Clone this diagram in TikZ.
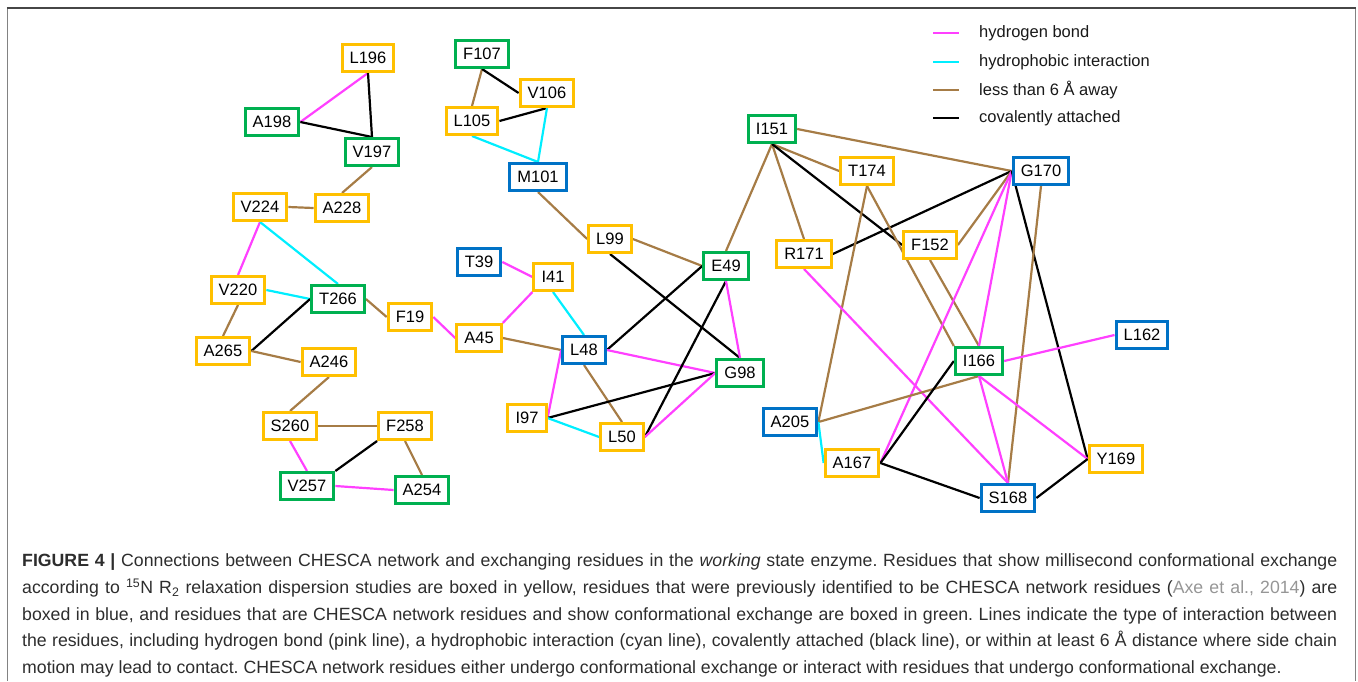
\documentclass[tikz,border=0pt]{standalone}
\usepackage{fontspec}
\setmainfont{Liberation Sans}
\usetikzlibrary{backgrounds}
\definecolor{cyel}{RGB}{255,192,0}
\definecolor{cgrn}{RGB}{0,176,80}
\definecolor{cblu}{RGB}{0,114,198}
\definecolor{cpink}{RGB}{255,64,255}
\definecolor{ccyan}{RGB}{0,238,255}
\definecolor{cbrown}{RGB}{166,124,70}
\definecolor{captxt}{RGB}{45,45,45}
\definecolor{capgray}{RGB}{150,150,150}
\definecolor{framedark}{RGB}{70,70,70}
\definecolor{framegray}{RGB}{130,130,130}
\tikzset{
  res/.style={draw, fill=white, line width=3pt, text=black,
    font=\fontsize{16.5}{18}\selectfont, inner xsep=7.6pt, inner ysep=0pt,
    minimum height=27pt},
  yb/.style={res, draw=cyel},
  gb/.style={res, draw=cgrn},
  bb/.style={res, draw=cblu},
  conn/.style={line width=2.2pt},
  hb/.style={conn, draw=cpink},
  hp/.style={conn, draw=ccyan},
  nb/.style={conn, draw=cbrown},
  cv/.style={conn, draw=black},
  legtext/.style={anchor=west, inner sep=0pt, text=black!90, font=\fontsize{16.5}{18}\selectfont},
}
\begin{document}
\begin{tikzpicture}[x=1pt,y=-1pt]
\useasboundingbox (0,0) rectangle (1358,681);
% frame
\draw[framegray, line width=1.5pt] (7.5,8) -- (7.5,681);
\draw[framegray, line width=1.5pt] (1355.5,8) -- (1355.5,681);
\draw[framedark, line width=2pt] (6.75,8) -- (1356.25,8);

% nodes
\node[yb] (L196) at (368,58) {L196};
\node[gb] (A198) at (272,122) {A198};
\node[gb] (V197) at (372,152) {V197};
\node[gb] (F107) at (482,54) {F107};
\node[yb] (V106) at (547,93) {V106};
\node[yb] (L105) at (472,121) {L105};
\node[bb] (M101) at (538,177) {M101};
\node[yb] (V224) at (260,207) {V224};
\node[yb] (A228) at (342,208) {A228};
\node[yb] (V220) at (238,290) {V220};
\node[gb] (T266) at (338,299) {T266};
\node[yb] (F19) at (410,317) {F19};
\node[yb] (A265) at (223,351) {A265};
\node[yb] (A246) at (329,362) {A246};
\node[yb] (S260) at (290,426) {S260};
\node[yb] (F258) at (405,426) {F258};
\node[gb] (V257) at (307,486) {V257};
\node[gb] (A254) at (422,490) {A254};
\node[bb] (T39) at (479,262) {T39};
\node[yb] (I41) at (553,277) {I41};
\node[yb] (A45) at (479,338) {A45};
\node[bb] (L48) at (584,350) {L48};
\node[yb] (I97) at (527,418) {I97};
\node[yb] (L50) at (622,437) {L50};
\node[yb] (L99) at (610,239) {L99};
\node[gb] (E49) at (726,266) {E49};
\node[gb] (G98) at (740,373) {G98};
\node[gb] (I151) at (772,129) {I151};
\node[yb] (T174) at (867,171) {T174};
\node[bb] (G170) at (1041,171) {G170};
\node[yb] (R171) at (804,254) {R171};
\node[yb] (F152) at (930,245) {F152};
\node[bb] (L162) at (1142,335) {L162};
\node[gb] (I166) at (979,361) {I166};
\node[bb] (A205) at (790,422) {A205};
\node[yb] (A167) at (852,463) {A167};
\node[yb] (Y169) at (1116,459) {Y169};
\node[bb] (S168) at (1008,498) {S168};

\begin{scope}[on background layer]
% left cluster
\draw[hb] (L196.south) -- (A198.east);
\draw[cv] (L196.south) -- (V197.north);
\draw[cv] (A198.east) -- (V197.north);
\draw[nb] (V197.south) -- (A228.north);
\draw[nb] (V224.east) -- (A228.west);
\draw[hb] (V224.south) -- (V220.north);
\draw[hp] (V224.south) -- (T266.north);
\draw[hp] (V220.east) -- (T266.west);
\draw[nb] (V220.south) -- (A265.north);
\draw[cv] (A265.east) -- (T266.west);
\draw[nb] (T266.east) -- (F19.west);
\draw[nb] (A265.east) -- (A246.west);
\draw[nb] (A246.south) -- (S260.north);
\draw[nb] (S260.east) -- (F258.west);
\draw[hb] (S260.south) -- (V257.north);
\draw[cv] (F258.south west) -- (V257.north east);
\draw[nb] (F258.south) -- (A254.north);
\draw[hb] (V257.east) -- (A254.west);
\draw[hb] (F19.east) -- (A45.west);
% middle cluster
\draw[nb] (F107.south) -- (L105.north);
\draw[cv] (F107.south) -- (V106.west);
\draw[cv] (L105.east) -- (V106.south);
\draw[hp] (V106.south) -- (M101.north);
\draw[hp] (L105.south) -- (M101.north);
\draw[nb] (M101.south) -- (L99.west);
\draw[nb] (L99.east) -- (E49.west);
\draw[cv] (L99.south) -- (G98.north);
\draw[hb] (T39.east) -- (I41.west);
\draw[hb] (I41.south west) -- (A45.north east);
\draw[hp] (I41.south) -- (L48.north);
\draw[nb] (A45.east) -- (L48.west);
\draw[cv] (L48.east) -- (E49.west);
\draw[hb] (L48.east) -- (G98.west);
\draw[hb] (L48.west) -- (I97.east);
\draw[nb] (L48.south) -- (L50.north);
\draw[cv] (I97.east) -- (G98.west);
\draw[hp] (I97.east) -- (L50.west);
\draw[cv] (L50.east) -- (E49.south);
\draw[hb] (L50.east) -- (G98.west);
\draw[hb] (E49.south) -- (G98.north);
\draw[nb] (E49.north) -- (I151.south);
% right cluster
\draw[nb] (I151.east) -- (G170.west);
\draw[nb] (I151.south) -- (T174.west);
\draw[nb] (I151.south) -- (R171.north);
\draw[cv] (I151.south) -- (F152.west);
\draw[cv] (R171.east) -- (G170.west);
\draw[nb] (T174.south) -- (A205.east);
\draw[nb] (T174.south) -- (I166.north west);
\draw[nb] (F152.east) -- (G170.west);
\draw[nb] (F152.south) -- (I166.north);
\draw[hb] (G170.west) -- (I166.north);
\draw[hb] (G170.west) -- (A167.east);
\draw[cv] (G170.west) -- (Y169.west);
\draw[nb] (G170.south) -- (S168.north);
\draw[hb] (R171.south) -- (S168.north);
\draw[hb] (L162.west) -- (I166.east);
\draw[nb] (I166.south) -- (A205.east);
\draw[cv] (I166.west) -- (A167.east);
\draw[hb] (I166.south) -- (S168.north);
\draw[hb] (I166.south) -- (Y169.west);
\draw[hp] (A205.east) -- (A167.west);
\draw[cv] (A167.east) -- (S168.west);
\draw[cv] (S168.east) -- (Y169.west);
\end{scope}

% legend
\coordinate (lg1a) at (933,33); \coordinate (lg1b) at (959,33);
\coordinate (lg2a) at (933,62); \coordinate (lg2b) at (959,62);
\coordinate (lg3a) at (933,90); \coordinate (lg3b) at (959,90);
\coordinate (lg4a) at (933,118); \coordinate (lg4b) at (959,118);
\draw[hb] (lg1a) -- (lg1b);
\draw[hp] (lg2a) -- (lg2b);
\draw[nb] (lg3a) -- (lg3b);
\draw[cv] (lg4a) -- (lg4b);
\node[legtext] (lt1) at (979,33) {hydrogen bond};
\node[legtext] (lt2) at (979,62) {hydrophobic interaction};
\node[legtext] (lt3) at (979,90) {less than 6 Å away};
\node[legtext] (lt4) at (979,118) {covalently attached};

% caption
\node[anchor=base west, inner sep=0pt, text width=1315pt, align=justify, text=captxt,
  font=\fontsize{17.7}{26.8}\selectfont] (cap) at (22,566.5)
{\frenchspacing\spaceskip=0.278em plus 1em minus 0.14em\relax
\tolerance=10000\hyphenpenalty=10000\emergencystretch=0pt%
\textbf{FIGURE 4 |} Connections between CHESCA network and exchanging residues in the \textit{working} state enzyme. Residues that show millisecond conformational exchange\linebreak
according to \textsuperscript{15}N R\textsubscript{2} relaxation dispersion studies are boxed in yellow, residues that were previously identified to be CHESCA network residues ({\color{capgray}Axe et al., 2014}) are\linebreak
boxed in blue, and residues that are CHESCA network residues and show conformational exchange are boxed in green. Lines indicate the type of interaction between\linebreak
the residues, including hydrogen bond (pink line), a hydrophobic interaction (cyan line), covalently attached (black line), or within at least 6 Å distance where side chain\linebreak
motion may lead to contact. CHESCA network residues either undergo conformational exchange or interact with residues that undergo conformational exchange.};
\end{tikzpicture}
\end{document}
